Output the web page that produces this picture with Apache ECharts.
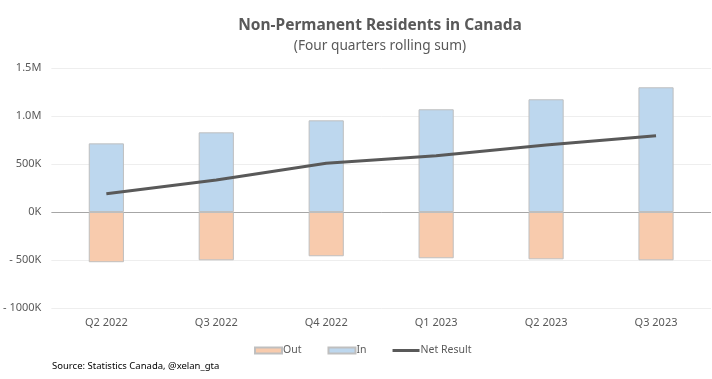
<!DOCTYPE html>
<html>
<head>
<meta charset="utf-8">
<script src="https://cdn.jsdelivr.net/npm/echarts@6/dist/echarts.min.js"></script>
<style>html,body{margin:0;padding:0;background:#fff}#c{width:712px;height:379px}</style>
</head>
<body>
<div id="c"></div>
<script>
const categories = ['Q2 2022','Q3 2022','Q4 2022','Q1 2023','Q2 2023','Q3 2023'];
const outValues = [-523000,-503000,-461000,-482000,-493000,-503000];
const inValues = [715000,830000,955000,1070000,1174000,1299000];
const netValues = [190000,333000,507000,587000,698000,795000];
const yTickLabels = {'-1000000':'- 1000K','-500000':'- 500K','0':'0K','500000':'500K','1000000':'1.0M','1500000':'1.5M'};

const FONT = 'Noto Sans';
const chart = echarts.init(document.getElementById('c'), null, {renderer:'canvas'});
chart.setOption({
  animation:false,
  backgroundColor:'#fff',
  title:{
    text:'Non-Permanent Residents in Canada',
    subtext:'(Four quarters rolling sum)',
    left:375, textAlign:'center', top:13, itemGap:5,
    textStyle:{fontFamily:FONT,fontSize:15.5,fontWeight:'bold',color:'#595959'},
    subtextStyle:{fontFamily:FONT,fontSize:13.7,color:'#595959'}
  },
  grid:{left:50,right:1,top:68,bottom:71},
  legend:{
    bottom:18, left:249, itemWidth:27, itemHeight:6, itemGap:26,
    symbolKeepAspect:true,
    textStyle:{fontFamily:FONT,fontSize:10.5,color:'#595959',padding:[0,0,0,-4]},
    data:[{name:'Out',icon:'rect'},{name:'In',icon:'rect'},
      {name:'Net Result',icon:'path://M0,0H27V3H0Z',itemStyle:{color:'#595959',borderWidth:0}}]
  },
  xAxis:{
    type:'category', data:categories,
    axisLine:{show:false}, axisTick:{show:false},
    axisLabel:{fontFamily:FONT,fontSize:11,color:'#595959',margin:9}
  },
  yAxis:{
    type:'value', min:-1000000, max:1500000, interval:500000,
    axisLine:{show:false}, axisTick:{show:false},
    axisLabel:{fontFamily:FONT,fontSize:11,color:'#595959',margin:10,
      formatter:v=>yTickLabels[String(v)]},
    splitLine:{lineStyle:{width:1,color:['#eeeeee','#eeeeee','#a6a6a6','#eeeeee','#eeeeee','#eeeeee']}}
  },
  series:[
    {name:'Out',type:'bar',stack:'t',data:outValues,barWidth:'32%',
      itemStyle:{color:'#f8cbad',borderColor:'#bfbfbf',borderWidth:1}},
    {name:'In',type:'bar',stack:'t',data:inValues,barWidth:'32%',
      itemStyle:{color:'#bdd7ee',borderColor:'#bfbfbf',borderWidth:1}},
    {name:'Net Result',type:'line',data:netValues,symbol:'none',showSymbol:false,z:5,
      lineStyle:{color:'#595959',width:3},itemStyle:{color:'#595959'}}
  ],
  graphic:[{type:'text',left:52,top:361,style:{text:'Source: Statistics Canada, @xelan_gta',
    fontFamily:FONT,fontSize:9.5,fill:'#000'}}]
});
</script>
</body>
</html>
